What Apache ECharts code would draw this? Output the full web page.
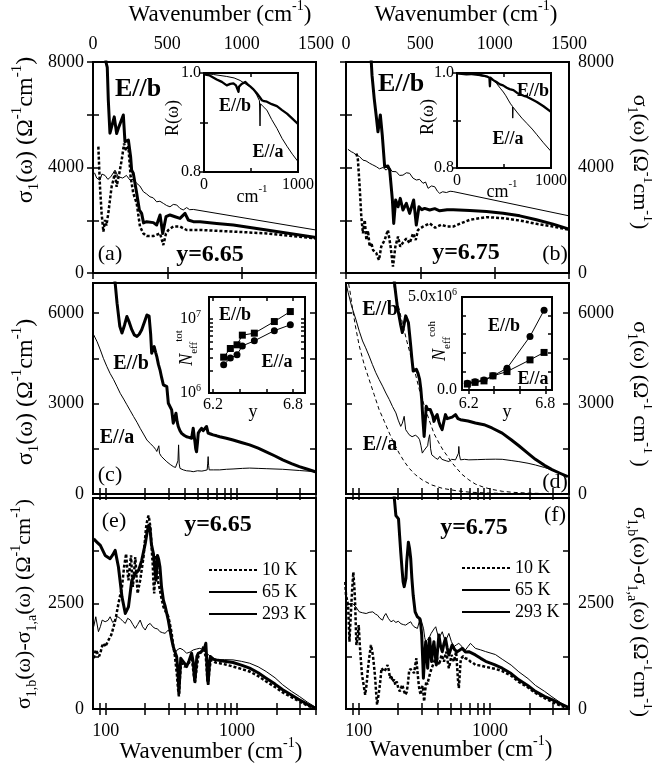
<!DOCTYPE html>
<html>
<head>
<meta charset="utf-8">
<script src="https://cdn.jsdelivr.net/npm/echarts@6/dist/echarts.min.js"></script>
<style>
  html, body { margin: 0; padding: 0; background: #fff; }
  #chart { width: 652px; height: 773px; }
</style>
</head>
<body>
<div id="chart"></div>
<script>
// ---------- data: [wavenumber (cm-1), sigma (Ohm-1 cm-1)] ----------

// (a) y = 6.65, E//b
const a10K = [[36, 4790], [47, 3270], [58, 2260], [70, 1570], [81, 2010], [90, 1800], [103, 2260], [114, 2770], [126, 3300], [137, 3520], [148, 3840], [159, 3270], [170, 3600], [177, 3780], [193, 4280], [209, 4910], [222, 4660], [238, 4790], [253, 3650], [271, 3020], [294, 2640], [316, 1760], [339, 1500], [361, 1400], [406, 1400], [451, 1500], [473, 1060], [491, 1500], [507, 1630], [540, 1760], [585, 1760], [630, 1630], [720, 1630], [944, 1570], [1168, 1500], [1500, 1310]];
const a65K = [[80, 9000], [87, 8000], [96, 7800], [103, 6550], [114, 5300], [126, 5350], [143, 5920], [159, 5290], [170, 5480], [182, 5550], [204, 5990], [215, 4980], [226, 5040], [238, 5040], [253, 4410], [260, 3900], [271, 3780], [294, 3020], [312, 2390], [327, 2260], [340, 1900], [361, 1945], [406, 1910], [428, 1820], [451, 2200], [469, 1500], [491, 2134], [518, 2200], [552, 2134], [585, 2070], [619, 2260], [641, 2010], [675, 1945], [720, 1945], [832, 1880], [944, 1820], [1168, 1630], [1500, 1350]];
const a293K = [[10, 3800], [25, 3600], [47, 3520], [60, 3750], [81, 3700], [100, 3550], [120, 3650], [148, 3900], [170, 3650], [200, 3600], [225, 3700], [249, 3520], [270, 3550], [294, 3400], [315, 3300], [339, 3080], [360, 3000], [383, 2890], [405, 2850], [428, 2700], [450, 2720], [473, 2640], [495, 2560], [518, 2510], [540, 2600], [563, 2580], [585, 2450], [607, 2390], [630, 2480], [650, 2400], [675, 2410], [1500, 1630]];

// (a) inset: reflectivity
const aRb = [[0, 0.997], [60, 0.995], [135, 0.987], [190, 0.982], [242, 0.975], [280, 0.978], [313, 0.979], [340, 0.975], [367, 0.962], [372, 0.972], [400, 0.978], [438, 0.982], [465, 0.977], [491, 0.973], [520, 0.968], [562, 0.959], [590, 0.952], [616, 0.945], [640, 0.943], [669, 0.942], [720, 0.937], [776, 0.933], [830, 0.925], [883, 0.918], [940, 0.908], [1000, 0.897]];
const aRa = [[0, 0.999], [100, 0.997], [242, 0.993], [320, 0.99], [384, 0.985], [440, 0.978], [491, 0.972], [530, 0.966], [562, 0.955], [590, 0.944], [596, 0.893], [601, 0.938], [630, 0.932], [669, 0.925], [720, 0.906], [776, 0.888], [830, 0.868], [883, 0.852], [940, 0.836], [1000, 0.821]];

// (b) y = 6.75, E//b
const b10K = [[70, 4530], [80, 4300], [92, 3270], [103, 2130], [114, 1500], [126, 2010], [137, 1250], [148, 1600], [159, 1000], [170, 1150], [182, 870], [193, 900], [204, 750], [213, 600], [222, 490], [237, 1000], [260, 1250], [282, 1630], [300, 1000], [316, 240], [332, 1000], [350, 1380], [365, 1000], [383, 1150], [406, 1310], [428, 1130], [451, 1500], [469, 1250], [484, 1630], [518, 1760], [563, 1880], [600, 1720], [640, 1830], [680, 1760], [721, 1760], [780, 1900], [833, 2016], [945, 2117], [1057, 2079], [1169, 1991], [1281, 1865], [1393, 1764], [1500, 1638]];
const b65K = [[165, 8500], [175, 7500], [190, 6600], [204, 5920], [215, 5355], [231, 5990], [244, 5230], [260, 4030], [282, 4055], [294, 3900], [312, 2770], [321, 1880], [334, 2770], [350, 2510], [365, 2830], [383, 2390], [406, 2640], [428, 2260], [455, 2770], [473, 1820], [491, 2510], [510, 2400], [529, 2450], [563, 2390], [597, 2440], [630, 2360], [680, 2400], [721, 2394], [833, 2369], [945, 2331], [1057, 2268], [1169, 2167], [1281, 2016], [1393, 1852], [1500, 1663]];
const b293K = [[13, 4690], [35, 4600], [50, 4560], [69, 4470], [90, 4420], [114, 4280], [135, 4250], [159, 4160], [180, 4100], [204, 4030], [225, 3950], [249, 4000], [270, 3900], [290, 4020], [310, 3850], [338, 3840], [360, 3700], [383, 3710], [406, 3800], [428, 3780], [450, 3600], [473, 3525], [495, 3550], [518, 3400], [535, 3450], [552, 3210], [575, 3300], [597, 3270], [615, 3100], [630, 3020], [650, 3080], [675, 3050], [700, 3100], [721, 3087], [1500, 2167]];

// (b) inset
const bRb = [[0, 0.999], [100, 0.997], [200, 0.998], [314, 0.993], [345, 0.99], [350, 0.972], [355, 0.99], [386, 0.985], [420, 0.981], [457, 0.976], [490, 0.974], [529, 0.969], [560, 0.966], [600, 0.964], [640, 0.958], [671, 0.955], [710, 0.952], [743, 0.95], [800, 0.944], [850, 0.939], [920, 0.93], [1000, 0.918]];
const bRa = [[0, 0.999], [150, 0.997], [314, 0.992], [370, 0.987], [421, 0.978], [460, 0.968], [493, 0.96], [520, 0.952], [546, 0.943], [570, 0.935], [590, 0.93], [593, 0.905], [597, 0.928], [636, 0.918], [690, 0.905], [743, 0.894], [800, 0.882], [850, 0.87], [920, 0.853], [1000, 0.835]];

// (c) y = 6.65, both polarisations
const cEb = [[115, 7300], [118, 7000], [122, 6330], [128, 5560], [133, 5340], [139, 5600], [145, 5890], [151, 5700], [158, 5450], [165, 5280], [173, 5230], [180, 5300], [188, 5450], [197, 5700], [206, 5940], [214, 5900], [220, 5300], [224, 4670], [229, 4800], [234, 4890], [240, 4700], [245, 4560], [252, 4300], [259, 4120], [267, 3850], [275, 3620], [283, 3600], [292, 3560], [300, 3010], [309, 2950], [318, 2790], [327, 2350], [335, 2500], [343, 2680], [350, 2400], [357, 2240], [368, 2100], [379, 2010], [395, 1950], [413, 1900], [430, 1880], [451, 1850], [464, 2180], [471, 1950], [478, 1740], [485, 1500], [492, 1400], [500, 1700], [507, 2020], [520, 2100], [537, 2180], [553, 2100], [569, 2130], [586, 2240], [603, 2020], [630, 1990], [658, 1960], [700, 1930], [739, 1900], [830, 1850], [933, 1790], [1080, 1710], [1248, 1630], [1450, 1520], [1669, 1400], [1950, 1260], [2231, 1130], [2600, 1010], [2985, 910], [3450, 820], [3946, 740]];
const cEa = [[81, 5280], [86, 5050], [91, 4780], [96, 4500], [102, 4230], [108, 4000], [115, 3790], [122, 3560], [129, 3340], [137, 3150], [145, 2960], [154, 2760], [163, 2570], [173, 2380], [183, 2180], [194, 1990], [206, 1790], [218, 1680], [231, 1570], [240, 1480], [245, 1410], [250, 1450], [254, 1600], [257, 1350], [265, 1250], [278, 1160], [292, 1070], [310, 980], [327, 910], [340, 880], [351, 870], [355, 1100], [359, 1630], [363, 1000], [368, 850], [390, 800], [413, 770], [440, 760], [464, 740], [500, 770], [540, 760], [570, 780], [593, 800], [598, 1000], [603, 1240], [608, 950], [614, 800], [660, 800], [739, 800], [830, 820], [933, 830], [1100, 850], [1248, 860], [1450, 850], [1669, 840], [2231, 820], [2985, 780], [3946, 740]];

// (c) inset: total effective carrier number vs y
const cNy = [6.28, 6.33, 6.38, 6.42, 6.51, 6.66, 6.78];
const cNb = [3.06e6, 4.01e6, 4.5e6, 6.08e6, 6.47e6, 9.3e6, 1.27e7];
const cNa = [2.41e6, 2.97e6, 3.3e6, 4.35e6, 5.09e6, 7.0e6, 8.4e6];

// (d) y = 6.75, both polarisations, plus Drude parts (dashed)
const dEb = [[180, 7400], [186, 7100], [192, 6600], [197, 6200], [203, 5910], [209, 5600], [215, 5356], [221, 5600], [228, 5910], [233, 5850], [239, 5690], [244, 5300], [249, 4910], [254, 4500], [260, 4077], [268, 4100], [275, 4133], [283, 4000], [291, 3800], [297, 3500], [302, 3133], [308, 2500], [315, 1910], [321, 2400], [327, 2910], [335, 2800], [343, 2743], [351, 2800], [359, 2743], [366, 2600], [374, 2410], [385, 2550], [396, 2633], [408, 2400], [420, 2243], [432, 2133], [445, 2400], [458, 2633], [472, 2500], [486, 2466], [515, 2550], [546, 2633], [570, 2500], [596, 2466], [680, 2420], [774, 2356], [900, 2300], [1035, 2190], [1239, 2020], [1450, 1800], [1660, 1600], [1950, 1350], [2218, 1150], [2600, 950], [2965, 810], [3450, 680], [3918, 576]];
const dEa = [[80, 7000], [83, 6690], [88, 6250], [95, 5800], [101, 5400], [107, 5077], [113, 4850], [120, 4577], [127, 4300], [135, 4023], [143, 3800], [152, 3577], [161, 3350], [171, 3133], [181, 2900], [192, 2690], [200, 2450], [209, 2243], [215, 2350], [222, 2577], [228, 2133], [235, 2050], [242, 1967], [255, 1900], [270, 1950], [281, 1900], [291, 1800], [298, 1600], [305, 1357], [315, 1450], [325, 1400], [335, 1600], [340, 1800], [347, 1967], [353, 1500], [360, 1300], [370, 1250], [386, 1190], [400, 1150], [415, 1250], [430, 1150], [445, 1200], [464, 1100], [486, 1077], [510, 1150], [546, 1133], [565, 1150], [575, 1350], [579, 1577], [585, 1300], [596, 1133], [640, 1150], [690, 1133], [800, 1140], [927, 1150], [1100, 1155], [1239, 1151], [1450, 1110], [1660, 1074], [1950, 1020], [2218, 963], [2600, 880], [2965, 797], [3450, 690], [3918, 576]];
const dDrudeB = [[175, 7600], [181, 7150], [190, 6700], [200, 6250], [215, 5690], [230, 5150], [249, 4580], [268, 4050], [288, 3500], [315, 2950], [343, 2470], [375, 2000], [409, 1690], [440, 1450], [470, 1280], [500, 1100], [550, 880], [613, 650], [690, 470], [774, 330], [900, 220], [1042, 150], [1239, 90], [1500, 55], [2000, 28], [2965, 12], [3918, 5]];
const dDrudeA = [[82, 7200], [86, 6700], [90, 6100], [95, 5500], [101, 4910], [110, 4300], [120, 3800], [131, 3300], [143, 2800], [157, 2400], [171, 2023], [186, 1680], [203, 1357], [222, 1080], [242, 857], [270, 640], [305, 467], [360, 300], [432, 190], [550, 110], [700, 60], [1000, 30], [1500, 14], [2500, 5], [3918, 2]];

// (d) inset: coherent effective carrier number vs y
const dNy = [6.19, 6.25, 6.32, 6.39, 6.5, 6.68, 6.79];
const dNb = [0.36e6, 0.45e6, 0.54e6, 0.76e6, 1.17e6, 2.88e6, 4.29e6];
const dNa = [0.32e6, 0.41e6, 0.49e6, 0.76e6, 0.99e6, 1.62e6, 2.02e6];

// (e) y = 6.65, sigma_b - sigma_a
const e10K = [[81, 1203], [84, 1400], [86, 1360], [89, 1250], [91, 1321], [94, 1500], [97, 1557], [99, 1478], [102, 1550], [105, 1635], [110, 1750], [115, 1950], [120, 2200], [125, 2500], [129, 2700], [133, 2893], [138, 3365], [143, 3679], [146, 3300], [149, 3050], [153, 3400], [156, 3640], [159, 3100], [161, 2893], [165, 3300], [168, 3601], [172, 3100], [175, 2736], [179, 2900], [183, 3050], [188, 3300], [194, 3601], [199, 4000], [203, 4308], [208, 4500], [212, 4584], [216, 4450], [220, 4230], [224, 3800], [228, 3444], [231, 3000], [234, 2736], [238, 3200], [242, 3640], [247, 3300], [251, 3000], [256, 2893], [265, 2650], [275, 2421], [287, 2300], [300, 2186], [309, 2000], [318, 1793], [327, 1500], [337, 1242], [349, 800], [355, 500], [361, 299], [367, 700], [373, 1000], [385, 1085], [400, 1000], [413, 967], [432, 1100], [451, 1242], [465, 900], [478, 613], [490, 900], [507, 1242], [530, 1350], [558, 1478], [580, 1200], [595, 700], [603, 574], [615, 900], [628, 1100], [640, 1164], [690, 1100], [739, 1085], [830, 1050], [933, 1006], [1080, 950], [1248, 888], [1450, 780], [1669, 653], [1950, 520], [2231, 393], [2600, 280], [2985, 181], [3450, 80], [3946, 0]];
const e65K = [[81, 4030], [86, 3950], [91, 3876], [99, 3640], [108, 3561], [113, 3650], [118, 3758], [125, 3365], [133, 2657], [141, 2264], [149, 2421], [158, 3050], [168, 3208], [178, 3286], [188, 3522], [200, 3915], [207, 4200], [212, 4348], [217, 4300], [223, 3900], [231, 3679], [237, 3300], [242, 3050], [248, 3640], [253, 3550], [259, 3365], [266, 2900], [275, 2579], [283, 2450], [292, 2421], [300, 2100], [309, 1871], [318, 1650], [327, 1478], [337, 1350], [347, 1242], [355, 900], [361, 377], [367, 800], [373, 1200], [379, 1242], [395, 1100], [413, 1006], [432, 1150], [451, 1321], [465, 1100], [472, 800], [478, 653], [485, 900], [495, 1250], [507, 1321], [530, 1350], [553, 1399], [566, 1450], [579, 1557], [590, 1100], [597, 700], [603, 613], [612, 900], [620, 1150], [628, 1242], [660, 1180], [697, 1164], [800, 1130], [933, 1101], [1080, 1040], [1248, 967], [1450, 860], [1669, 731], [1950, 590], [2231, 456], [2600, 330], [2985, 220], [3450, 110], [3946, 24]];
const e293K = [[81, 1950], [84, 2186], [88, 1832], [91, 1950], [94, 2107], [99, 2068], [104, 2100], [108, 2186], [113, 2050], [118, 2107], [123, 2190], [129, 2146], [135, 2080], [141, 2028], [147, 2150], [154, 2107], [161, 2000], [168, 1910], [175, 2000], [183, 2107], [191, 1950], [200, 1871], [209, 1990], [218, 2028], [228, 1950], [238, 1910], [248, 1900], [259, 1832], [270, 1810], [283, 1793], [292, 1840], [300, 1871], [309, 1800], [318, 1635], [327, 1450], [337, 1321], [350, 1400], [368, 1439], [390, 1400], [413, 1321], [440, 1350], [464, 1399], [490, 1420], [521, 1439], [550, 1400], [586, 1321], [640, 1230], [697, 1164], [800, 1170], [933, 1164], [1080, 1130], [1248, 1085], [1450, 1000], [1669, 888], [1950, 740], [2231, 574], [2600, 420], [2985, 299], [3450, 160], [3946, 47]];

// (f) y = 6.75, sigma_b - sigma_a
const f10K = [[79, 3009], [80, 2700], [83, 2459], [85, 1594], [87, 2224], [89, 2800], [91, 3245], [93, 2800], [94, 2459], [96, 1516], [98, 1700], [100, 1988], [102, 1500], [104, 1122], [106, 800], [109, 573], [112, 337], [115, 600], [117, 887], [120, 1200], [124, 1516], [127, 1350], [129, 1202], [132, 900], [134, 651], [136, 350], [138, 101], [141, 300], [144, 495], [147, 750], [149, 967], [153, 1000], [157, 887], [161, 950], [166, 1045], [170, 900], [173, 731], [177, 800], [181, 650], [186, 700], [190, 573], [195, 650], [200, 500], [206, 416], [210, 500], [215, 573], [220, 450], [226, 337], [232, 400], [237, 600], [242, 887], [247, 950], [252, 967], [258, 900], [264, 848], [270, 1050], [275, 1202], [280, 900], [285, 651], [290, 450], [297, 337], [302, 500], [308, 550], [315, 180], [320, 400], [327, 651], [333, 580], [340, 700], [350, 850], [359, 967], [366, 1000], [374, 1100], [382, 1200], [390, 1281], [399, 1150], [408, 1045], [418, 1150], [427, 1281], [437, 1200], [446, 1122], [455, 1250], [464, 1358], [475, 1150], [486, 967], [497, 1100], [509, 1281], [520, 1200], [531, 1122], [542, 1250], [552, 1358], [562, 1000], [570, 700], [579, 495], [588, 800], [596, 1100], [603, 1202], [626, 1250], [650, 1202], [680, 1180], [710, 1122], [740, 1100], [774, 1045], [850, 1030], [927, 1000], [1100, 950], [1239, 900], [1450, 790], [1660, 640], [1950, 510], [2218, 380], [2600, 260], [2965, 170], [3450, 80], [3918, 20]];
const f65K = [[183, 5300], [186, 5053], [192, 4582], [201, 4504], [205, 4100], [209, 3716], [214, 3300], [218, 3009], [222, 2900], [226, 2853], [229, 3100], [232, 3480], [239, 3952], [244, 3800], [249, 3560], [254, 3100], [260, 2695], [269, 2302], [280, 2184], [291, 2145], [297, 2000], [302, 1752], [307, 1200], [311, 731], [317, 1200], [324, 1594], [330, 1300], [335, 967], [341, 1400], [347, 1674], [353, 1400], [359, 1123], [366, 1400], [374, 1594], [382, 1300], [390, 1045], [399, 1400], [408, 1752], [420, 1500], [433, 1358], [446, 1550], [458, 1674], [472, 1450], [486, 1281], [500, 1400], [515, 1515], [540, 1400], [562, 1358], [590, 1400], [613, 1437], [650, 1350], [690, 1358], [774, 1281], [850, 1200], [927, 1130], [1080, 1050], [1239, 967], [1450, 840], [1660, 692], [1950, 550], [2218, 417], [2600, 300], [2965, 220], [3450, 120], [3918, 47]];
const f293K = [[80, 2450], [85, 2480], [90, 2499], [95, 2420], [101, 2302], [107, 2280], [114, 2263], [120, 2290], [128, 2302], [134, 2250], [139, 2224], [145, 2150], [152, 2106], [156, 2200], [161, 2263], [168, 2150], [176, 2067], [184, 2100], [192, 2050], [200, 2080], [210, 2020], [219, 2000], [228, 1988], [238, 2030], [249, 2067], [256, 2000], [264, 1949], [272, 1930], [280, 1909], [288, 2050], [297, 2145], [304, 2100], [312, 1900], [318, 1700], [324, 1594], [335, 1650], [347, 1713], [356, 1790], [364, 1831], [375, 1900], [386, 1949], [397, 1800], [408, 1674], [420, 1750], [433, 1831], [446, 1700], [458, 1594], [472, 1700], [486, 1791], [508, 1600], [531, 1476], [555, 1520], [579, 1555], [612, 1480], [650, 1398], [680, 1480], [710, 1555], [740, 1500], [774, 1437], [850, 1400], [927, 1360], [1100, 1290], [1239, 1180], [1450, 1040], [1660, 880], [1950, 720], [2218, 560], [2600, 420], [2965, 290], [3450, 150], [3918, 50]];

// tick positions
const logTicks = [90, 100, 200, 300, 400, 500, 600, 700, 800, 900, 1000, 2000, 3000, 4000];
const logLabels = [100, 1000];
const insetLogTicks = [1e6, 2e6, 3e6, 4e6, 5e6, 6e6, 7e6, 8e6, 9e6, 1e7, 2e7];
const yTicks = [6.2, 6.4, 6.6, 6.8];

// ---------- chart ----------
const SERIF = '"Liberation Serif", "DejaVu Serif", serif';
const chart = echarts.init(document.getElementById('chart'));

const MAIN = [[93, 62], [346, 62], [93, 283], [346, 283], [93, 498], [346, 498]];
const INSET = [[204, 73, 94, 99], [457, 73, 94, 95], [209, 297, 96, 96], [462, 297, 90, 93]];

const grids = MAIN.map(([l, t]) => ({ left: l, top: t, width: 223, height: 211, show: true, borderColor: '#000', borderWidth: 2, backgroundColor: 'transparent' }))
  .concat(INSET.map(([l, t, w, h]) => ({ left: l, top: t, width: w, height: h, show: true, borderColor: '#000', borderWidth: 2, backgroundColor: '#fff' })));

const xAxes = [];
const yAxes = [];

// every grid gets a labelled axis and a mirrored one (ticks only) on the other side
function addPair(list, g, pos, mirrorPos, base, label) {
  const tick = { show: true, inside: true, length: base.tickLen || 6, lineStyle: { color: '#000', width: 1.5 } };
  if (base.ticks) tick.customValues = base.ticks;
  const common = { gridIndex: g, type: base.type || 'value', min: base.min, max: base.max,
    axisLine: { show: false }, splitLine: { show: false }, axisTick: tick };
  if (base.interval) common.interval = base.interval;
  if (base.type === 'log') common.logBase = 10;
  const lab = label ? Object.assign({ show: true, color: '#000', fontFamily: SERIF, fontSize: 18, margin: 9,
    showMinLabel: true, showMaxLabel: true, hideOverlap: false }, label) : { show: false };
  list.push(Object.assign({}, common, { position: pos, axisLabel: lab }));
  list.push(Object.assign({}, common, { position: mirrorPos, axisLabel: { show: false } }));
}

const fmtInt = v => String(Math.round(v));
const linX = { min: 0, max: 1500, interval: 500 };
const logX = { type: 'log', min: 80, max: 4000, ticks: logTicks };

addPair(xAxes, 0, 'top', 'bottom', linX, { formatter: fmtInt });
addPair(xAxes, 1, 'top', 'bottom', linX, { formatter: fmtInt });
addPair(xAxes, 2, 'bottom', 'top', logX, null);
addPair(xAxes, 3, 'bottom', 'top', logX, null);
addPair(xAxes, 4, 'bottom', 'top', logX, { customValues: logLabels, formatter: fmtInt, margin: 13 });
addPair(xAxes, 5, 'bottom', 'top', logX, { customValues: logLabels, formatter: fmtInt, margin: 13 });

const yA = { min: 0, max: 8000, interval: 2000 };
const yC = { min: 0, max: 7000, interval: 1500 };
const yE = { min: 0, max: 5000, interval: 1250 };
addPair(yAxes, 0, 'left', 'right', yA, { customValues: [0, 4000, 8000], formatter: fmtInt });
addPair(yAxes, 1, 'right', 'left', yA, { customValues: [0, 4000, 8000], formatter: fmtInt });
addPair(yAxes, 2, 'left', 'right', yC, { customValues: [0, 3000, 6000], formatter: fmtInt });
addPair(yAxes, 3, 'right', 'left', yC, { customValues: [0, 3000, 6000], formatter: fmtInt });
addPair(yAxes, 4, 'left', 'right', yE, { customValues: [0, 2500], formatter: fmtInt });
addPair(yAxes, 5, 'right', 'left', yE, { customValues: [0, 2500], formatter: fmtInt });

// insets
const insetLab = { fontSize: 16, margin: 4 };
const supRich = { sup: { fontFamily: SERIF, fontSize: 10, lineHeight: 10, verticalAlign: 'top', color: '#000' } };
for (const g of [6, 7]) {
  addPair(xAxes, g, 'bottom', 'top', { min: 0, max: 1000, ticks: [0, 500, 1000], tickLen: 4 },
    Object.assign({}, insetLab, { customValues: [0, 1000], formatter: fmtInt, margin: 5 }));
  addPair(yAxes, g, 'left', 'right', { min: 0.8, max: 1.0, interval: 0.1, tickLen: 4 },
    Object.assign({}, insetLab, { customValues: [0.8, 1.0], formatter: v => v.toFixed(1), margin: 3 }));
}
addPair(xAxes, 8, 'bottom', 'top', { min: 6.17, max: 6.89, ticks: yTicks, tickLen: 4 },
  Object.assign({}, insetLab, { customValues: [6.2, 6.8], formatter: v => v.toFixed(1), margin: 4 }));
addPair(yAxes, 8, 'left', 'right', { type: 'log', min: 1e6, max: 2e7, ticks: insetLogTicks, tickLen: 4 },
  Object.assign({}, insetLab, { customValues: [1e6, 1e7], lineHeight: 20, rich: supRich, margin: 8,
    formatter: v => '10{sup|' + Math.round(Math.log10(v)) + '}' }));
addPair(xAxes, 9, 'bottom', 'top', { min: 6.148, max: 6.852, ticks: yTicks, tickLen: 4 },
  Object.assign({}, insetLab, { customValues: [6.2, 6.8], formatter: v => v.toFixed(1), margin: 6 }));
addPair(yAxes, 9, 'left', 'right', { min: 0, max: 5e6, interval: 1e6, tickLen: 4 },
  Object.assign({}, insetLab, { customValues: [0, 5e6], lineHeight: 20, rich: supRich, margin: 5,
    formatter: v => v === 0 ? '0.0' : '5.0x10{sup|6}' }));

const THICK = { color: '#000', width: 3, join: 'round' };
const THIN = { color: '#000', width: 1, join: 'round' };
const DOTS = { color: '#000', width: 2.5, type: [3, 2] };
const DASH = { color: '#000', width: 1, type: [4, 3] };
const IN_THICK = { color: '#000', width: 2.3, join: 'round' };

function curve(name, g, data, style) {
  return { name, type: 'line', xAxisIndex: 2 * g, yAxisIndex: 2 * g, data, symbol: 'none', showSymbol: false,
    lineStyle: style, itemStyle: { color: '#000' }, clip: true, z: 3, animation: false };
}
function dots(name, g, xs, ys, symbol) {
  return { name, type: 'line', xAxisIndex: 2 * g, yAxisIndex: 2 * g, data: xs.map((x, i) => [x, ys[i]]),
    symbol, symbolSize: 7, showSymbol: true, lineStyle: THIN, itemStyle: { color: '#000' }, z: 5, animation: false };
}

const series = [
  curve('a 10 K', 0, a10K, DOTS), curve('a 65 K', 0, a65K, THICK), curve('a 293 K', 0, a293K, THIN),
  curve('a Rb', 6, aRb, IN_THICK), curve('a Ra', 6, aRa, THIN),
  curve('b 10 K', 1, b10K, DOTS), curve('b 65 K', 1, b65K, THICK), curve('b 293 K', 1, b293K, THIN),
  curve('b Rb', 7, bRb, IN_THICK), curve('b Ra', 7, bRa, THIN),
  curve('c E//b', 2, cEb, THICK), curve('c E//a', 2, cEa, THIN),
  dots('c Nb', 8, cNy, cNb, 'rect'), dots('c Na', 8, cNy, cNa, 'circle'),
  curve('d E//b', 3, dEb, THICK), curve('d E//a', 3, dEa, THIN),
  curve('d Drude b', 3, dDrudeB, DASH), curve('d Drude a', 3, dDrudeA, DASH),
  dots('d Nb', 9, dNy, dNb, 'circle'), dots('d Na', 9, dNy, dNa, 'rect'),
  curve('10 K', 4, e10K, DOTS), curve('65 K', 4, e65K, THICK), curve('293 K', 4, e293K, THIN),
  curve('10 K', 5, f10K, DOTS), curve('65 K', 5, f65K, THICK), curve('293 K', 5, f293K, THIN)
];

// ---------- text ----------
function rich(size) {
  const s = Math.round(size * 0.62);
  return {
    n: { fontFamily: SERIF, fontSize: size, lineHeight: size + 8, verticalAlign: 'middle', fill: '#000' },
    i: { fontFamily: SERIF, fontSize: size, fontStyle: 'italic', lineHeight: size + 8, verticalAlign: 'middle', fill: '#000' },
    sup: { fontFamily: SERIF, fontSize: s, lineHeight: s, verticalAlign: 'top', fill: '#000' },
    sub: { fontFamily: SERIF, fontSize: s, lineHeight: s, verticalAlign: 'bottom', fill: '#000' }
  };
}
function txt(x, y, text, size, bold, rot) {
  const el = { type: 'text', x, y, z: 100, style: { text, fill: '#000', fontFamily: SERIF, fontSize: size,
    fontWeight: bold ? 'bold' : 'normal', align: 'center', verticalAlign: 'middle', rich: rich(size) } };
  if (rot) el.rotation = rot;
  return el;
}
const UP = Math.PI / 2;
const DOWN = -Math.PI / 2;
const wave = '{n|Wavenumber (cm}{sup|-1}{n|)}';
const sig = '{n|σ}{sub|1}{n|(ω) (Ω}{sup|-1}{n|cm}{sup|-1}{n|)}';
const sigD = '{n|σ}{sub|1}{n|(ω) (Ω}{sup|-1}{n| cm}{sup|-1}{n| )}';
const sigDiff = '{n|σ}{sub|1,b}{n|(ω)-σ}{sub|1,a}{n|(ω) (Ω}{sup|-1}{n|cm}{sup|-1}{n|)}';
const cm = '{n|cm}{sup|-1}';

const texts = [
  txt(220, 15, wave, 23), txt(466, 15, wave, 23), txt(211, 752, wave, 23), txt(461, 750, wave, 23),
  txt(26, 130, sig, 24, false, UP), txt(640, 162, sig, 22, false, DOWN),
  txt(26, 392, sig, 24, false, UP), txt(640, 394, sigD, 22, false, DOWN),
  txt(24, 604, sigDiff, 22, false, UP), txt(640, 612, sigDiff, 22, false, DOWN),
  // (a)
  txt(138, 89, 'E//b', 26, true), txt(110, 254, '(a)', 22), txt(210, 255, 'y=6.65', 24, true),
  txt(235, 106, 'E//b', 18, true), txt(268, 152, 'E//a', 18, true),
  txt(173, 118, 'R(ω)', 18, false, UP), txt(252, 197, cm, 18),
  // (b)
  txt(401, 84, 'E//b', 26, true), txt(466, 253, 'y=6.75', 24, true), txt(555, 254, '(b)', 22),
  txt(533, 91, 'E//b', 18, true), txt(508, 139, 'E//a', 18, true),
  txt(428, 117, 'R(ω)', 18, false, UP), txt(502, 192, cm, 18),
  // (c)
  txt(131, 364, 'E//b', 20, true), txt(117, 438, 'E//a', 20, true), txt(110, 475, '(c)', 22),
  txt(235, 315, 'E//b', 18, true), txt(277, 362, 'E//a', 18, true), txt(253, 412, 'y', 18),
  txt(187, 348, '{i|N}{sub|eff}{sup|tot}', 18, false, UP),
  // (d)
  txt(380, 310, 'E//b', 20, true), txt(380, 445, 'E//a', 20, true), txt(555, 482, '(d)', 22),
  txt(504, 326, 'E//b', 18, true), txt(533, 379, 'E//a', 18, true), txt(507, 412, 'y', 18),
  txt(440, 341, '{i|N}{sub|eff}{sup|coh}', 18, false, UP),
  // (e), (f)
  txt(114, 521, '(e)', 22), txt(218, 525, 'y=6.65', 24, true),
  txt(555, 515, '(f)', 22), txt(474, 528, 'y=6.75', 24, true)
];

// legend: line samples only (the round marker is made invisible)
const legendBase = { data: ['10 K', '65 K', '293 K'], orient: 'vertical', itemWidth: 48, itemHeight: 14, itemGap: 4,
  selectedMode: false, itemStyle: { color: 'rgba(0,0,0,0)', borderWidth: 0 },
  textStyle: { fontFamily: SERIF, fontSize: 18, color: '#000' } };

chart.setOption({
  animation: false,
  backgroundColor: '#fff',
  grid: grids,
  xAxis: xAxes,
  yAxis: yAxes,
  legend: [Object.assign({ left: 203, top: 556 }, legendBase), Object.assign({ left: 456, top: 554 }, legendBase)],
  graphic: texts,
  series
});
</script>
</body>
</html>
